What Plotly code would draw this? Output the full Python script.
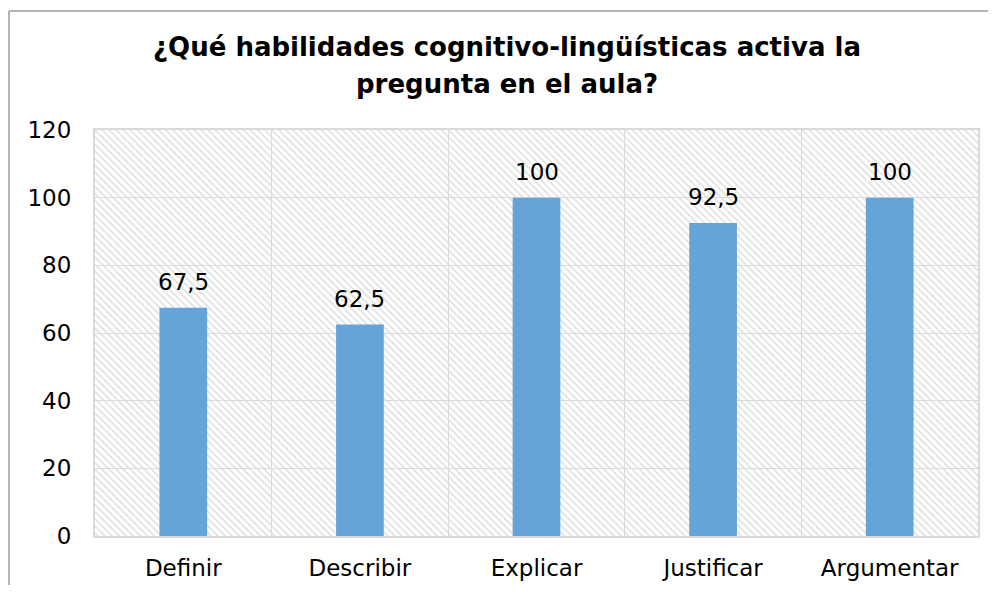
import plotly.graph_objects as go

# Data
categorias = ["Definir", "Describir", "Explicar", "Justificar", "Argumentar"]
valores = [67.5, 62.5, 100, 92.5, 100]
y_ticks = [0, 20, 40, 60, 80, 100, 120]
titulo = ["¿Qué habilidades cognitivo-lingüísticas activa la", "pregunta en el aula?"]

etiquetas = [f"{v:g}".replace(".", ",") for v in valores]

# the page body adds an 8px margin on every side; keep the figure inside the window
W, H = 980, 577
ml, mr, mt, mb = 87, 10, 122, 49
pw, ph = W - ml - mr, H - mt - mb

fig = go.Figure()

# hatched plot background (one full-width bar per category)
fig.add_trace(go.Bar(
    x=categorias,
    y=[max(y_ticks)] * len(categorias),
    width=1,
    marker=dict(
        color="rgba(0,0,0,0)",
        line=dict(width=0),
        pattern=dict(shape="\\", fgcolor="#DEDEDE", size=5, solidity=0.3, fillmode="replace"),
    ),
    hoverinfo="skip",
    showlegend=False,
))

fig.add_trace(go.Bar(
    x=categorias,
    y=valores,
    width=0.27,
    marker=dict(color="#66A3D8", line=dict(width=0)),
    hoverinfo="x+y",
    showlegend=False,
))

# value labels above the bars
anotaciones = [
    dict(x=c, y=v, text=t, showarrow=False, yanchor="bottom", yshift=11,
         font=dict(family="DejaVu Sans", size=23, color="#000000"))
    for c, v, t in zip(categorias, valores, etiquetas)
]

# two title lines, centred on the chart frame
cx = (507 - 8 - ml) / pw
for linea, py in zip(titulo, [47, 84]):
    anotaciones.append(dict(
        xref="paper", yref="paper", x=cx, y=1 + (130 - py) / ph,
        xanchor="center", yanchor="middle", showarrow=False,
        text=f"<b>{linea}</b>",
        font=dict(family="DejaVu Sans", size=26, color="#000000"),
    ))

# outer chart frame: only the top and left edges fall inside the window
x_izq = (1 - ml) / pw
y_sup = 1 + (mt - 3) / ph
marco = dict(color="#B4B4B4", width=2)

fig.update_layout(
    width=W, height=H,
    margin=dict(l=ml, r=mr, t=mt, b=mb),
    barmode="overlay",
    paper_bgcolor="white",
    plot_bgcolor="white",
    font=dict(family="DejaVu Sans", size=23, color="#000000"),
    annotations=anotaciones,
    xaxis=dict(
        type="category",
        automargin=False,
        tickson="boundaries",
        showgrid=True, gridcolor="#D9D9D9", gridwidth=1,
        showline=True, linecolor="#D9D9D9", linewidth=2, mirror=True,
        ticks="", ticklabelstandoff=10,
        tickfont=dict(size=23),
    ),
    yaxis=dict(
        range=[0, 120],
        automargin=False,
        tickvals=y_ticks,
        showgrid=True, gridcolor="#D9D9D9", gridwidth=1,
        showline=True, linecolor="#D9D9D9", linewidth=2, mirror=True,
        zeroline=False,
        ticks="", ticklabelstandoff=17,
        tickfont=dict(size=23),
    ),
    shapes=[
        dict(type="line", xref="paper", yref="paper",
             x0=x_izq, x1=(W + 20 - ml) / pw, y0=y_sup, y1=y_sup, line=marco),
        dict(type="line", xref="paper", yref="paper",
             x0=x_izq, x1=x_izq, y0=y_sup, y1=-(mb + 20) / ph, line=marco),
    ],
)

fig.write_html("out.html")
